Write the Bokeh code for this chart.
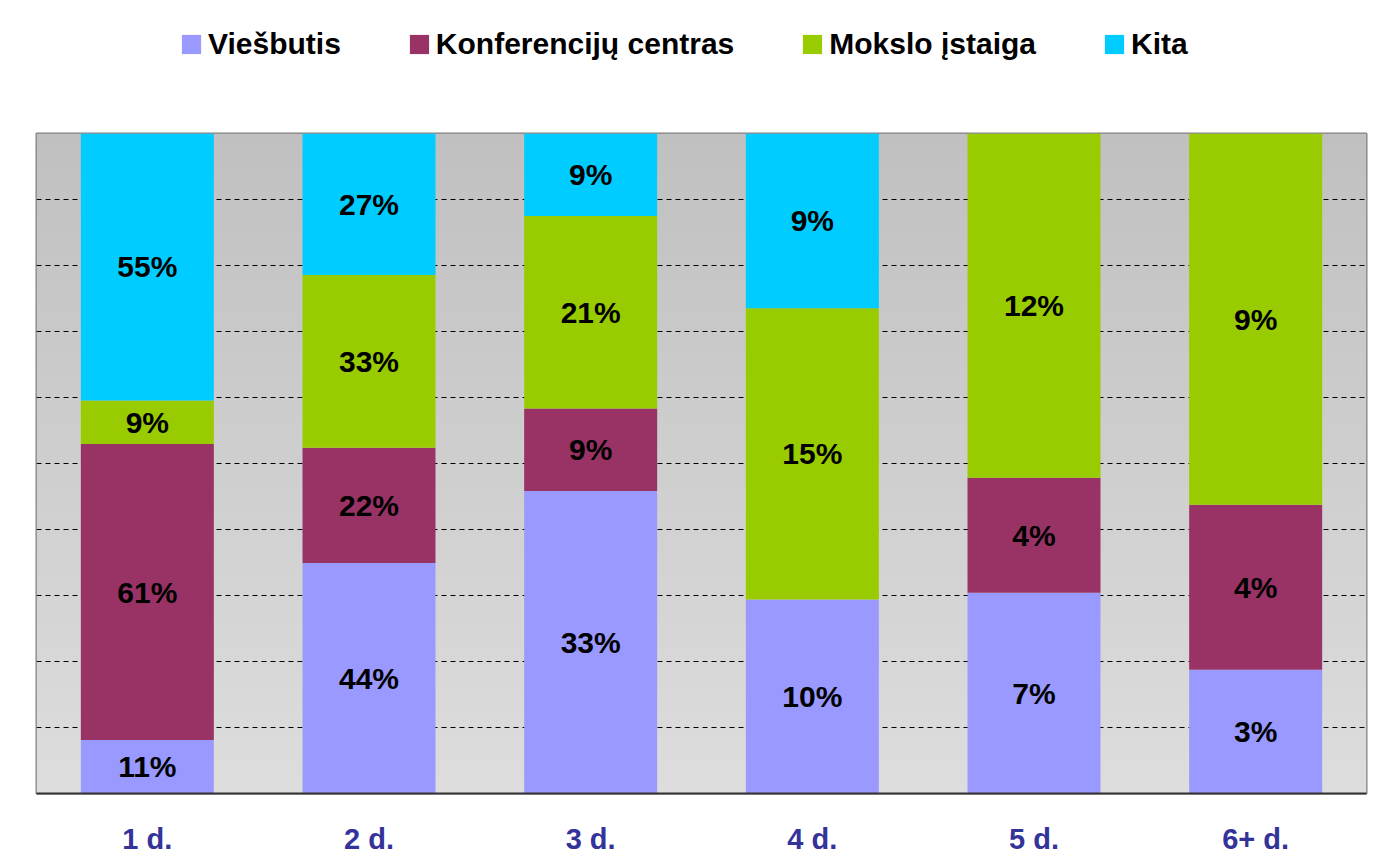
import numpy as np
from bokeh.plotting import figure
from bokeh.layouts import column
from bokeh.models import Range1d, FixedTicker, ColumnDataSource, Legend, LegendItem
from bokeh.core.properties import value
from bokeh.embed import file_html
from bokeh.resources import INLINE

categories = ["1 d.", "2 d.", "3 d.", "4 d.", "5 d.", "6+ d."]
series_names = ["Viešbutis", "Konferencijų centras", "Mokslo įstaiga", "Kita"]
viesbutis = [11, 44, 33, 10, 7, 3]
konferenciju = [61, 22, 9, 0, 4, 4]
mokslo = [9, 33, 21, 15, 12, 9]
kita = [55, 27, 9, 9, 0, 0]
colors = ["#9999FF", "#993366", "#99CC00", "#00CCFF"]

raw = [viesbutis, konferenciju, mokslo, kita]
totals = [sum(col) for col in zip(*raw)]
xs = list(range(len(categories)))
keys = ["s0", "s1", "s2", "s3"]
data = {"x": xs}
for k, s in zip(keys, raw):
    data[k] = [v / t for v, t in zip(s, totals)]
src = ColumnDataSource(data)

FONT = value("Liberation Sans")
W = 1372

# ---------- legend strip ----------
leg = figure(width=W, height=108, output_backend="svg", toolbar_location=None,
             x_range=Range1d(0, W), y_range=Range1d(0, 108),
             min_border_left=0, min_border_right=0, min_border_top=0, min_border_bottom=0)
leg.axis.visible = False
leg.grid.visible = False
leg.outline_line_color = None
leg.background_fill_color = "white"
leg.border_fill_color = "white"
# zero-size proxy renderers, only used to draw the legend swatches
dummies = [leg.quad(left=[0], right=[0], top=[0], bottom=[0], fill_color=c, line_color=None)
           for c in colors]
lg = Legend(items=[LegendItem(label=n, renderers=[r]) for n, r in zip(series_names, dummies)])
lg.orientation = "horizontal"
lg.location = (143, 47)
lg.border_line_alpha = 0
lg.background_fill_alpha = 0
lg.padding = 0
lg.margin = 0
lg.spacing = 66
lg.glyph_width = 24
lg.glyph_height = 24
lg.label_standoff = 5
lg.label_height = 24
lg.label_text_font = "Liberation Sans"
lg.label_text_font_style = "bold"
lg.label_text_font_size = "30px"
lg.label_text_color = "black"
leg.add_layout(lg, "center")

# ---------- main chart ----------
p = figure(width=W, height=749, output_backend="svg", toolbar_location=None,
           x_range=Range1d(-0.5, len(categories) - 0.5), y_range=Range1d(0, 1),
           min_border_left=36, min_border_right=6, min_border_top=25, min_border_bottom=62)
p.background_fill_color = "#CFCFCF"
p.border_fill_color = "white"
p.outline_line_color = "#808080"
p.outline_line_width = 2

# gradient plot background
N = 200
img = np.empty((N, 1), dtype=np.uint32)
view = img.view(dtype=np.uint8).reshape((N, 1, 4))
for i in range(N):
    t = i / (N - 1)
    c = int(round(0xDD + (0xC0 - 0xDD) * t))
    view[i, 0, :] = [c, c, c, 255]
p.image_rgba(image=[img], x=-0.5, y=0, dw=len(categories), dh=1, level="image")

rs = p.vbar_stack(keys, x="x", width=0.6, source=src, color=colors, line_color=None)

# segment labels
lx, ly, lt = [], [], []
for i in xs:
    base = 0.0
    for s in raw:
        v = s[i]
        h = v / totals[i]
        if v > 0:
            lx.append(i)
            ly.append(base + h / 2)
            lt.append(f"{v}%")
        base += h
p.text(x=lx, y=ly, text=lt, text_align="center", text_baseline="middle",
       text_font=FONT, text_font_style="bold", text_font_size="30px", text_color="black")

p.yaxis.visible = False
p.xgrid.visible = False
p.ygrid.ticker = FixedTicker(ticks=[i / 10 for i in range(1, 10)])
p.ygrid.grid_line_color = "black"
p.ygrid.grid_line_dash = "5 4"
p.ygrid.grid_line_width = 1

p.xaxis.ticker = FixedTicker(ticks=xs)
p.xaxis.major_label_overrides = {i: c for i, c in enumerate(categories)}
p.xaxis.major_tick_line_color = None
p.xaxis.minor_tick_line_color = None
p.xaxis.axis_line_color = "#333333"
p.xaxis.axis_line_width = 2
p.xaxis.major_label_text_font = "Liberation Sans"
p.xaxis.major_label_text_font_style = "bold"
p.xaxis.major_label_text_font_size = "29px"
p.xaxis.major_label_text_color = "#333399"
p.xaxis.major_label_standoff = 23

open("out.html", "w").write(file_html(column(leg, p, spacing=0), INLINE))
